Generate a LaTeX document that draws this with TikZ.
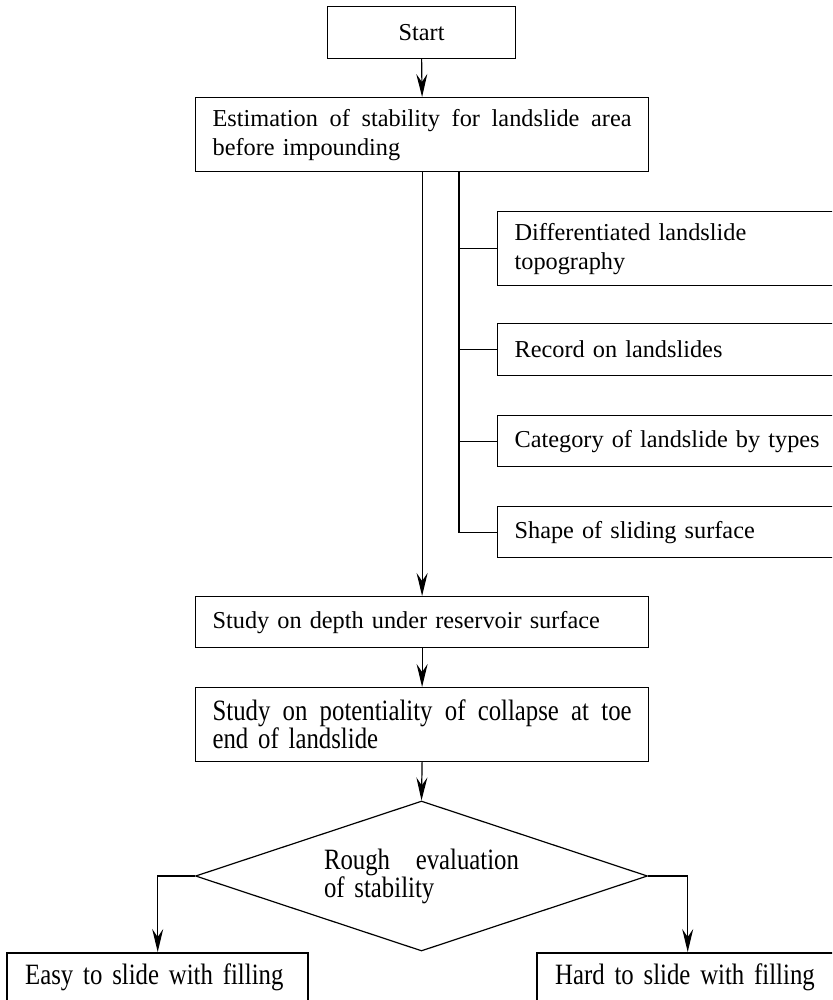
\documentclass[tikz,border=0pt]{standalone}
\usepackage{fontspec}
\setmainfont{Liberation Serif}
\newfontfamily\lowfont[FakeStretch=0.84]{Liberation Serif}
\usetikzlibrary{arrows.meta,shapes.geometric}
\newcommand{\spreadline}[2]{\hbox to #1{#2}}
\tikzset{
  topfont/.style={font=\fontsize{24.3}{29}\selectfont},
  lowtext/.style={font={\lowfont\fontsize{29.5}{28}\selectfont}},
  box/.style={draw, line width=1.2pt, anchor=north west, inner xsep=17pt, inner ysep=0pt, align=left},
  rbox/.style={box, topfont, text width=320pt},
  wide/.style={box, text width=419pt},
  endbox/.style={draw, line width=2.4pt, anchor=north west, inner xsep=18pt, inner ysep=11pt,
    text width=265pt, align=left, lowtext, text height=20pt, text depth=45pt},
  conn/.style={line width=1.2pt},
  arr/.style={conn, -{Stealth[length=23pt,width=11pt,inset=8pt]}},
}
\begin{document}
\begin{tikzpicture}[x=1pt,y=-1pt]
\useasboundingbox (0,0) rectangle (832,1000);
\clip (0,0) rectangle (832,1000);
% main column
\node[box, topfont, align=center, minimum width=188pt, minimum height=52pt, inner xsep=0pt] (start) at (327,6) {Start};
\node[wide, topfont, minimum height=74pt] (est) at (195,97)
  {\spreadline{419pt}{Estimation\ \hfill of\ \hfill stability\ \hfill for\ \hfill landslide\ \hfill area}\\before impounding};
% side boxes
\node[rbox, minimum height=74pt] (diff) at (497,211) {Differentiated landslide\\topography};
\node[rbox, minimum height=52pt] (rec) at (497,323) {Record on landslides};
\node[rbox, minimum height=51pt] (cat) at (497,415) {Category of landslide by types};
\node[rbox, minimum height=51pt] (shape) at (497,506) {Shape of sliding surface};
% lower column
\node[wide, topfont, minimum height=51pt] (depth) at (195,596) {Study on depth under reservoir surface};
\node[wide, lowtext, minimum height=74pt] (pot) at (195,687)
  {\spreadline{419pt}{Study\ \hfill on\ \hfill potentiality\ \hfill of\ \hfill collapse\ \hfill at\ \hfill toe}\\end of landslide};
\node[draw, conn, diamond, shape aspect=3, minimum width=452pt, minimum height=150pt, inner sep=0pt,
  text width=195pt, align=left, lowtext] (dia) at (421.5,876)
  {\spreadline{195pt}{Rough\ \hfill evaluation}\\of stability};
\node[endbox] (easy) at (6,952) {Easy to slide with filling};
\node[endbox] (hard) at (536,952) {Hard to slide with filling};
% connectors
\coordinate (bx) at (459,0);
\draw[arr] (start.south) -- (est.north);
\draw[arr] (est.south) -- (depth.north);
\draw[conn] (est.south -| bx) -- (shape.west -| bx) -- (shape.west);
\foreach \n in {diff,rec,cat} \draw[conn] (\n.west -| bx) -- (\n.west);
\draw[arr] (depth.south) -- (pot.north);
\draw[arr] (pot.south) -- (dia.north);
\draw[arr] (dia.west) -| (easy.north);
\draw[arr] (dia.east) -| (hard.north);
\end{tikzpicture}
\end{document}
